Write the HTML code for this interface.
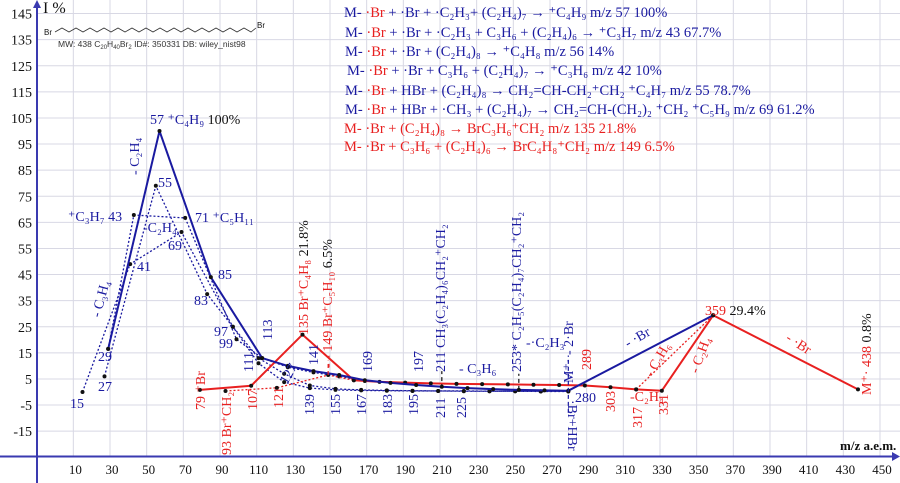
<!DOCTYPE html>
<html><head><meta charset="utf-8"><style>
html,body{margin:0;padding:0;background:#fff}
svg{display:block;font-family:"Liberation Serif",serif}
.b{fill:#1a1aa0}.r{fill:#e82020}.k{fill:#111}
</style></head><body>
<svg id="chart" width="900" height="483" viewBox="0 0 900 483" xmlns="http://www.w3.org/2000/svg">
<g id="grid"></g>
<g id="axes"></g>
<g id="marks"></g>
<g id="labels">
 <text x="43" y="13" font-size="16" class="k">I %</text>
 <text x="840" y="450" font-size="13" font-weight="bold" class="k">m/z a.e.m.</text>
 <g>
  <polyline fill="none" stroke="#333" stroke-width="0.8" points="55,32 62,28 69,32 76,28 83,32 90,28 97,32 104,28 111,32 118,28 125,32 132,28 139,32 146,28 153,32 160,28 167,32 174,28 181,32 188,28 195,32 202,28 209,32 216,28 223,32 230,28 237,32 244,28 251,32 256,28"/>
  <text x="44" y="35" font-size="8" font-family="Liberation Sans" class="k">Br</text>
  <text x="257" y="28" font-size="8" font-family="Liberation Sans" class="k">Br</text>
  <text x="58" y="47" font-size="8.5" font-family="Liberation Sans" fill="#333">MW: 438   C<tspan font-size="6" dy="2">20</tspan><tspan dy="-2">H</tspan><tspan font-size="6" dy="2">40</tspan><tspan dy="-2">Br</tspan><tspan font-size="6" dy="2">2</tspan><tspan dy="-2">  ID#: 350331   DB: wiley_nist98</tspan></text>
 </g>
 <g font-size="14.5">
  <text x="344" y="17" class="b">M- <tspan class="r">·Br</tspan> + ·Br + ·C₂H₃+ (C₂H₄)₇ → ⁺C₄H₉ m/z 57  100%</text>
  <text x="345" y="37" class="b">M- <tspan class="r">·Br</tspan> + ·Br + ·C₂H₃ + C₃H₆ + (C₂H₄)₆ → ⁺C₃H₇ m/z 43  67.7%</text>
  <text x="345" y="56" class="b">M- <tspan class="r">·Br</tspan> + ·Br +  (C₂H₄)₈ → ⁺C₄H₈ m/z 56  14%</text>
  <text x="347" y="75" class="b">M- <tspan class="r">·Br</tspan> + ·Br +  C₃H₆ + (C₂H₄)₇  → ⁺C₃H₆ m/z 42 10%</text>
  <text x="345" y="95" class="b">M- <tspan class="r">·Br</tspan> + HBr + (C₂H₄)₈ → CH₂=CH-CH₂⁺CH₂     ⁺C₄H₇ m/z 55 78.7%</text>
  <text x="345" y="114" class="b">M- <tspan class="r">·Br</tspan> + HBr + ·CH₃ + (C₂H₄)₇ → CH₂=CH-(CH₂)₂ ⁺CH₂  ⁺C₅H₉ m/z 69  61.2%</text>
  <text x="344" y="133" class="r">M- ·Br + (C₂H₄)₈  →   BrC₃H₆⁺CH₂           m/z 135  21.8%</text>
  <text x="344" y="151" class="r">M- ·Br + C₃H₆ + (C₂H₄)₆ → BrC₄H₈⁺CH₂   m/z 149   6.5%</text>
 </g>
 <g font-size="14">
  <text x="150" y="124" class="b">57 ⁺C₄H₉ <tspan class="k">100%</tspan></text>
  <text x="158" y="187" class="b">55</text>
  <text x="68" y="221" class="b">⁺C₃H₇ 43</text>
  <text x="195" y="222" class="b">71 ⁺C₅H₁₁</text>
  <text x="143" y="232" class="b">-C₂H₄</text>
  <text x="168" y="250" class="b">69</text>
  <text x="137" y="271" class="b">41</text>
  <text x="218" y="279" class="b">85</text>
  <text x="194" y="305" class="b">83</text>
  <text x="214" y="336" class="b">97</text>
  <text x="219" y="348" class="b">99</text>
  <text x="98" y="361" class="b">29</text>
  <text x="98" y="391" class="b">27</text>
  <text x="70" y="408" class="b">15</text>
  <text x="575" y="402" class="b">280</text>
  <text x="459" y="373" class="b">- C₃H₆</text>
  <text x="526" y="347" class="b">-·C₂H₃</text>
  <text x="630" y="401" class="r">-C₂H₄</text>
  <text x="705" y="315" class="r">359 <tspan class="k">29.4%</tspan></text>
  <g font-size="14">
   <text transform="translate(139,175) rotate(-90)" class="b">- C₂H₄</text>
   <text transform="translate(100,318) rotate(-75)" class="b">- C₃H₄</text>
   <text transform="translate(272,340) rotate(-90)" class="b">113</text>
   <text transform="translate(253,372) rotate(-90)" class="b">111</text>
   <text transform="translate(205,410) rotate(-90)" class="r">79 ⁺Br</text>
   <text transform="translate(231,455) rotate(-90)" class="r">93 Br⁺CH₂</text>
   <text transform="translate(257,410) rotate(-90)" class="r">107</text>
   <text transform="translate(283,408) rotate(-90)" class="r">121</text>
   <text transform="translate(308,335) rotate(-90)" class="r">135 Br⁺C₄H₈ <tspan class="k">21.8%</tspan></text>
   <text transform="translate(332,368) rotate(-90)" class="r">- - 149 Br⁺C₅H₁₀ <tspan class="k">6.5%</tspan></text>
   <text transform="translate(287,385) rotate(-60)" class="b">127</text>
   <text transform="translate(318,365) rotate(-90)" class="b">141</text>
   <text transform="translate(314,415) rotate(-90)" class="b">139</text>
   <text transform="translate(340,415) rotate(-90)" class="b">155</text>
   <text transform="translate(366,415) rotate(-90)" class="b">167</text>
   <text transform="translate(372,372) rotate(-90)" class="b">169</text>
   <text transform="translate(392,415) rotate(-90)" class="b">183</text>
   <text transform="translate(418,415) rotate(-90)" class="b">195</text>
   <text transform="translate(423,372) rotate(-90)" class="b">197</text>
   <text transform="translate(445,418) rotate(-90)" class="b">211</text>
   <text transform="translate(445,372) rotate(-90)" class="b">211  CH₃(C₂H₄)₆CH₂⁺CH₂</text>
   <text transform="translate(466,418) rotate(-90)" class="b">225</text>
   <text transform="translate(521,372) rotate(-90)" class="b">253* C₂H₅(C₂H₄)₇CH₂⁺CH₂</text>
   <text transform="translate(573,383) rotate(-90)" class="b">M⁺· - 2·Br</text>
   <text transform="translate(568,400) rotate(90)" class="b">·Br+HBr</text>
   <text transform="translate(591,370) rotate(-90)" class="r">289</text>
   <text transform="translate(615,412) rotate(-90)" class="r">303</text>
   <text transform="translate(642,428) rotate(-90)" class="r">317</text>
   <text transform="translate(668,415) rotate(-90)" class="r">331</text>
   <text transform="translate(652,378) rotate(-60)" class="r">- C₃H₆</text>
   <text transform="translate(698,374) rotate(-70)" class="r">- C₂H₄</text>
   <text transform="translate(628,348) rotate(-30)" class="b">- ·Br</text>
   <text transform="translate(785,340) rotate(33)" class="r">- ·Br</text>
   <text transform="translate(871,395) rotate(-90)" class="r">M⁺· 438 <tspan class="k">0.8%</tspan></text>
  </g>
 </g>
</g>
</svg>
<script>
// axis domain
const xTicks = [10,30,50,70,90,110,130,150,170,190,210,230,250,270,290,310,330,350,370,390,410,430,450];
const yTicks = [145,135,125,115,105,95,85,75,65,55,45,35,25,15,5,-5,-15];
// series data (m/z, intensity %)
const blueMainMz = [29,57,85,113,127,141,155,169,183,197,211,225,239,253,267,280,359];
const blueMainI  = [16.5,100,44,13,10,8,6.5,4.5,3.5,2.7,2,1.5,1.1,0.8,0.6,0.5,29.4];
const blueDotAMz = [15,41,69,97,111,125,139,153,167,181,195,209,223,237,251,265,280];
const blueDotAI  = [0,49,61.3,25,11,3.8,1.5,0.8,0.6,0.5,0.4,0.4,0.3,0.3,0.3,0.2,0.2];
const blueDotBMz = [27,55,83,97,111,125,139,153,167,181,195,209,223,237,251,265,280];
const blueDotBI  = [6,79,37.5,25,13,7,2.5,1.2,0.8,0.6,0.5,0.4,0.4,0.3,0.3,0.3,0.3];
const blueDotCMz = [29,43,71,99,113,127,141,155,169];
const blueDotCI  = [16.5,67.8,66.7,20.2,13,9.5,7.5,6,4.2];
const redMainMz = [79,107,135,163,177,191,205,219,233,247,261,275,289,303,317,331,359,438];
const redMainI  = [0.8,2.4,22,4.5,3.9,3.6,3.3,3.1,3,2.9,2.8,2.7,2.5,1.8,1.0,0.5,29.4,1];
const redDotMz = [93,121,149,163];
const redDotI  = [0.4,1.6,6.5,4.5];
const redDot2Mz = [317,359];
const redDot2I  = [1.0,29.4];

const NS = "http://www.w3.org/2000/svg";
const X = v => 55 + v * 1.8333;
const Y = v => 392 - v * 2.61;
function mk(tag, attrs, parent) {
  const e = document.createElementNS(NS, tag);
  for (const k in attrs) e.setAttribute(k, attrs[k]);
  parent.appendChild(e);
  return e;
}
const grid = document.getElementById('grid');
const axes = document.getElementById('axes');
const marks = document.getElementById('marks');

xTicks.forEach(t => {
  const l = mk('line', {x1: X(t), x2: X(t), y1: 0, y2: 456, stroke: '#d8d8e4', 'stroke-width': 1}, grid);
  
  
  const tx = mk('text', {x: X(t) + 2, y: 474, 'font-size': 13, 'text-anchor': 'middle', fill: '#111'}, axes);
  tx.textContent = t;
  
  
});
yTicks.forEach(t => {
  const l = mk('line', {x1: 37, x2: 900, y1: Y(t), y2: Y(t), stroke: '#d8d8e4', 'stroke-width': 1}, grid);
  
  
  const tx = mk('text', {x: 32, y: Y(t) + 5, 'font-size': 14, 'text-anchor': 'end', fill: '#111'}, axes);
  tx.textContent = t;
  
  
});
const ax1 = mk('line', {x1: 37, x2: 37, y1: 4, y2: 483, stroke: '#3a3ab0', 'stroke-width': 2}, axes);


const ax2 = mk('line', {x1: 0, x2: 894, y1: 456.5, y2: 456.5, stroke: '#3a3ab0', 'stroke-width': 2}, axes);


const ar1 = mk('polygon', {points: '33,8 37,0 41,8', fill: '#3a3ab0'}, axes);


const ar2 = mk('polygon', {points: '892,452 900,456.5 892,461', fill: '#3a3ab0'}, axes);



function series(mz, I, color, dash, width, name) {
  const pts = mz.map((m, i) => X(m) + ',' + Y(I[i])).join(' ');
  const pl = mk('polyline', {points: pts, fill: 'none', stroke: color, 'stroke-width': width, 'stroke-dasharray': dash || 'none', 'stroke-linejoin': 'round'}, marks);
  
  
  mz.forEach((m, i) => {
    const c = mk('circle', {cx: X(m), cy: Y(I[i]), r: 2, fill: '#111'}, marks);
    
    
  });
}
series(blueDotAMz, blueDotAI, '#1a1aa0', '2,2', 1.3, 'blue-dotted-series-a');
series(blueDotBMz, blueDotBI, '#1a1aa0', '2,2', 1.3, 'blue-dotted-series-b');
series(blueDotCMz, blueDotCI, '#1a1aa0', '2,2', 1.3, 'blue-dotted-series-c');
series(redDotMz, redDotI, '#e82020', '2,2', 1.3, 'red-dotted-series');
series(redDot2Mz, redDot2I, '#e82020', '2,2', 1.3, 'red-dotted-series-2');
series(redMainMz, redMainI, '#e82020', null, 2, 'red-main-series');
series(blueMainMz, blueMainI, '#1a1aa0', null, 2, 'blue-main-series');

function vdash(m, i1, i2, color, name) {
  const l = mk('line', {x1: X(m), x2: X(m), y1: Y(i1), y2: Y(i2), stroke: color, 'stroke-width': 1.2, 'stroke-dasharray': '4,3'}, marks);
  
  
}
vdash(149, 6.5, 12, '#e82020', 'marker-149');
vdash(211, 1.5, 8, '#111', 'marker-211');
vdash(253, 0.8, 7, '#111', 'marker-253');
vdash(280, -8, 14, '#1a1aa0', 'marker-280');
</script>
</body></html>
